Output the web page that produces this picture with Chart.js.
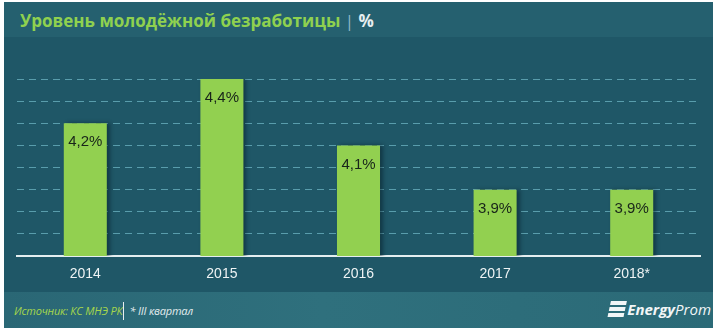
<!DOCTYPE html>
<html>
<head>
<meta charset="utf-8">
<script src="https://cdn.jsdelivr.net/npm/chart.js@4/dist/chart.umd.min.js"></script>
<style>
  html, body { margin: 0; padding: 0; background: #fff; }
  #wrap { position: relative; width: 719px; height: 334px; overflow: hidden; background: #fff; }
  #panel { position: absolute; left: 4px; top: 2px; width: 709px; height: 326px; background: #1f5767; }
  #head { position: absolute; left: 0; top: 0; width: 709px; height: 35px; background: #25606f; }
  #title { position: absolute; left: 16px; top: 7px; font: 700 17px "Open Sans", sans-serif; color: #8fd14f; white-space: nowrap; }
  #title .unit { color: #e6eef0; }
  #title .bar { color: #8fb8c8; font-weight: 400; }
  #foot { position: absolute; left: 0; top: 290px; width: 709px; height: 36px;
          background: linear-gradient(90deg, #2a6775 0%, #2f707d 45%, #2b6a77 100%); }
  #src { position: absolute; left: 10px; top: 10px; font: italic 11px "Open Sans", sans-serif; color: #a6d64c; white-space: nowrap; letter-spacing: -0.2px; }
  #src .sep { display: inline-block; width: 1px; height: 18px; background: #e8eef0; vertical-align: -5px; margin: 0 5px 0 1px; }
  #src .note { color: #e4ecee; }
  #logo { position: absolute; right: 2px; top: 7px; font: italic 15px "Open Sans", sans-serif; color: #f2f6f7; white-space: nowrap; }
  #logo b { font-weight: 700; }
  #logo .ico { display: inline-block; width: 16px; height: 18px; vertical-align: -4px; margin-right: 2px;
               background: repeating-linear-gradient(180deg, #f2f6f7 0 4px, transparent 4px 6px); transform: skewX(-12deg); }
  canvas { position: absolute; left: 0; top: 0; }
</style>
</head>
<body>
<div id="wrap">
  <div id="panel">
    <div id="head"></div>
    <div id="title">Уровень молодёжной безработицы <span class="bar">|</span> <span class="unit">%</span></div>
    <div id="foot">
      <div id="src">Источник: КС МНЭ РК<span class="sep"></span><span class="note">* III квартал</span></div>
      <div id="logo"><span class="ico"></span><b>Energy</b>Prom</div>
    </div>
  </div>
  <canvas id="chart" width="719" height="334"></canvas>
</div>
<script>
// youth unemployment, % by year (2018 = Q3)
const years = ['2014', '2015', '2016', '2017', '2018*'];
const rates = [4.2, 4.4, 4.1, 3.9, 3.9];
const yMin = 3.6;
const yMax = 4.4;

const fmt = v => v.toFixed(1).replace('.', ',') + '%';

// soft shadow behind the bars
const barShadow = {
  id: 'barShadow',
  beforeDatasetDraw(chart) {
    const ctx = chart.ctx;
    ctx.save();
    ctx.shadowColor = 'rgba(0,20,30,0.45)';
    ctx.shadowBlur = 4;
    ctx.shadowOffsetX = 3;
  },
  afterDatasetDraw(chart) {
    chart.ctx.restore();
  }
};

// value text inside the top of each bar
const barLabels = {
  id: 'barLabels',
  afterDatasetsDraw(chart) {
    const ctx = chart.ctx;
    const meta = chart.getDatasetMeta(0);
    ctx.save();
    ctx.font = '15px "Liberation Sans", Arial, sans-serif';
    ctx.fillStyle = '#18241a';
    ctx.textAlign = 'center';
    ctx.textBaseline = 'middle';
    meta.data.forEach((bar, i) => {
      ctx.fillText(fmt(rates[i]), bar.x, bar.y + 19);
    });
    ctx.restore();
  }
};

new Chart(document.getElementById('chart'), {
  type: 'bar',
  data: {
    labels: years,
    datasets: [{
      data: rates,
      backgroundColor: '#92d050',
      borderWidth: 0,
      categoryPercentage: 1,
      barPercentage: 0.315
    }]
  },
  options: {
    responsive: false,
    devicePixelRatio: 1,
    animation: false,
    layout: { padding: { left: 17, right: 19, top: 79, bottom: 48 } },
    plugins: { legend: { display: false }, tooltip: { enabled: false } },
    scales: {
      x: {
        grid: { display: false, drawTicks: false },
        border: { display: true, color: '#e4eef0', width: 2 },
        ticks: { color: '#eef3f4', font: { family: '"Liberation Sans", Arial, sans-serif', size: 14 }, padding: 10 },
        afterFit(s) { s.height = 30; }
      },
      y: {
        min: yMin,
        max: yMax,
        ticks: { display: false, stepSize: 0.1 },
        border: { display: false, dash: [7, 5] },
        grid: {
          drawTicks: false,
          lineWidth: 1,
          color: c => (c.tick && c.tick.value <= yMin + 1e-6) ? 'rgba(0,0,0,0)' : 'rgba(110,180,195,0.75)'
        },
        afterFit(s) { s.width = 0; }
      }
    }
  },
  plugins: [barShadow, barLabels]
});
</script>
</body>
</html>
